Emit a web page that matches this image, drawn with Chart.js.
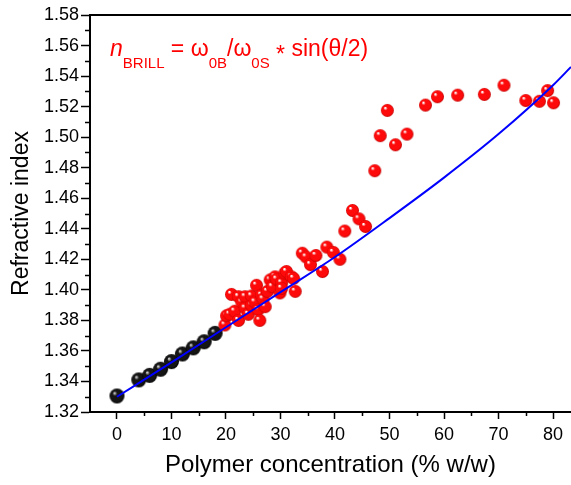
<!DOCTYPE html>
<html>
<head>
<meta charset="utf-8">
<script src="https://cdn.jsdelivr.net/npm/chart.js@4.4.0/dist/chart.umd.min.js"></script>
<style>
    html, body { margin: 0; padding: 0; background: #fff; overflow: hidden; }
    canvas { display: block; }
</style>
</head>
<body>
<canvas id="refChart" width="571" height="485"></canvas>
<script>
// Water / low concentration points (black)
const waterX = [0, 4, 6, 8, 10, 12, 14, 16, 18];
const waterY = [1.3305, 1.341, 1.344, 1.348, 1.353, 1.358, 1.362, 1.366, 1.3715];

// Brillouin points (red)
const brillX = [19.8, 20.1, 20.7, 21.0, 21.6, 22.3, 22.3, 22.9, 23.5, 23.5, 24.1, 24.7, 24.7, 25.3,
    25.6, 25.9, 26.2, 26.5, 26.8, 27.2, 27.6, 28.1, 28.5, 29.0, 29.3, 29.9, 30.2, 30.2, 30.8, 31.1,
    32.0, 32.4, 32.7, 34.0, 34.7, 35.5, 36.5, 37.7, 38.5, 39.7, 40.9, 41.8, 43.2, 44.4, 45.6, 47.3,
    48.3, 49.6, 51.1, 53.2, 56.6, 58.8, 62.5, 67.4, 71.0, 75.0, 77.5, 79.0, 80.1];
const brillY = [1.377, 1.383, 1.384, 1.397, 1.386, 1.380, 1.3955, 1.392, 1.3955, 1.388, 1.384, 1.390, 1.396, 1.392,
    1.403, 1.387, 1.380, 1.3965, 1.394, 1.389, 1.399, 1.4065, 1.402, 1.4085, 1.407, 1.398, 1.4045, 1.401, 1.411, 1.412,
    1.4085, 1.4075, 1.399, 1.424, 1.4215, 1.4165, 1.4225, 1.412, 1.428, 1.4245, 1.420, 1.4385, 1.452, 1.4465, 1.4415, 1.478,
    1.501, 1.5175, 1.495, 1.502, 1.521, 1.5265, 1.5275, 1.528, 1.534, 1.524, 1.5235, 1.5305, 1.5225];

// Fit curve
const fitX = [0, 10, 20, 30, 40, 50, 60, 70, 80, 83.3];
const fitY = [1.330, 1.3525, 1.3755, 1.3985, 1.4215, 1.447, 1.4735, 1.502, 1.534, 1.546];

// Axis ticks
const xTicks = [0, 10, 20, 30, 40, 50, 60, 70, 80];
const xMinor = [5, 15, 25, 35, 45, 55, 65, 75];
const yTicks = [1.32, 1.34, 1.36, 1.38, 1.40, 1.42, 1.44, 1.46, 1.48, 1.50, 1.52, 1.54, 1.56, 1.58];
const yMinor = [1.33, 1.35, 1.37, 1.39, 1.41, 1.43, 1.45, 1.47, 1.49, 1.51, 1.53, 1.55, 1.57];

const FONT = "Arial, 'Liberation Sans', sans-serif";

// Shaded sphere used as point marker
function makeBall(radius, base, rim, shine) {
    const c = document.createElement('canvas');
    const size = radius * 2 + 2;
    c.width = size;
    c.height = size;
    const g = c.getContext('2d');
    const cx = size / 2, cy = size / 2;
    const grad = g.createRadialGradient(cx - radius * 0.35, cy - radius * 0.4, 0.5, cx, cy, radius);
    grad.addColorStop(0, shine);
    grad.addColorStop(0.25, base);
    grad.addColorStop(0.8, base);
    grad.addColorStop(1, rim);
    g.fillStyle = grad;
    g.beginPath();
    g.arc(cx, cy, radius, 0, Math.PI * 2);
    g.fill();
    return c;
}

const redBall = makeBall(6.5, '#ff0a0a', '#c00000', '#ffffff');
const blackBall = makeBall(7.5, '#151515', '#000000', '#d0d0d0');

const toPoints = (xs, ys) => xs.map((x, i) => ({ x: x, y: ys[i] }));

const minorTicks = {
    id: 'minorTicks',
    afterDraw: (chart) => {
        const ctx = chart.ctx;
        const area = chart.chartArea;
        const xs = chart.scales.x;
        const ys = chart.scales.y;
        ctx.save();
        ctx.strokeStyle = '#000';
        ctx.lineWidth = 1.5;
        ctx.beginPath();
        xMinor.forEach(v => {
            const px = Math.round(xs.getPixelForValue(v)) + 0.5;
            ctx.moveTo(px, area.bottom);
            ctx.lineTo(px, area.bottom + 4);
        });
        yMinor.forEach(v => {
            const py = Math.round(ys.getPixelForValue(v)) + 0.5;
            ctx.moveTo(area.left, py);
            ctx.lineTo(area.left - 5, py);
        });
        ctx.stroke();
        // top frame line
        ctx.beginPath();
        ctx.lineWidth = 2;
        ctx.moveTo(area.left, area.top);
        ctx.lineTo(chart.width, area.top);
        ctx.stroke();
        ctx.restore();
    }
};

// Formula label in the upper left corner
const formula = {
    id: 'formula',
    afterDraw: (chart) => {
        const ctx = chart.ctx;
        ctx.save();
        ctx.fillStyle = '#ff0000';
        ctx.textBaseline = 'alphabetic';
        const big = '23px ' + FONT;
        const small = '15px ' + FONT;
        let x = 110;
        const y = 56;
        const part = (text, font, dy) => {
            ctx.font = font;
            ctx.fillText(text, x, y + (dy || 0));
            x += ctx.measureText(text).width;
        };
        part('n', 'italic ' + big);
        part('BRILL', small, 12);
        part(' = \u03c9', big);
        part('0B', small, 12);
        part('/\u03c9', big);
        part('0S', small, 12);
        part(' ', big);
        part('*', big, 6);
        part(' sin(\u03b8/2)', big);
        ctx.restore();
    }
};

const ctx = document.getElementById('refChart').getContext('2d');

const chart = new Chart(ctx, {
    type: 'scatter',
    data: {
        datasets: [
            {
                label: 'fit',
                type: 'line',
                data: toPoints(fitX, fitY),
                borderColor: '#0000ff',
                borderWidth: 2,
                pointRadius: 0,
                cubicInterpolationMode: 'monotone',
                fill: false,
                order: 0
            },
            {
                label: 'water',
                data: toPoints(waterX, waterY),
                pointStyle: blackBall,
                order: 2
            },
            {
                label: 'brillouin',
                data: toPoints(brillX, brillY),
                pointStyle: redBall,
                order: 1
            }
        ]
    },
    options: {
        responsive: false,
        animation: false,
        layout: {
            autoPadding: false,
            padding: { top: 15, right: 0, left: 0, bottom: 0 }
        },
        plugins: {
            legend: { display: false },
            tooltip: { enabled: false }
        },
        scales: {
            x: {
                type: 'linear',
                min: -4.95,
                max: 83.3,
                afterBuildTicks: (scale) => {
                    scale.ticks = xTicks.map(v => ({ value: v }));
                },
                afterFit: (scale) => {
                    scale.height = 73;
                    scale.paddingRight = 0;
                },
                ticks: {
                    color: '#000',
                    padding: 5,
                    maxRotation: 0,
                    font: { size: 18, family: FONT }
                },
                grid: {
                    drawOnChartArea: false,
                    tickLength: 7,
                    tickWidth: 1.5,
                    tickColor: '#000'
                },
                border: { color: '#000', width: 2 },
                title: {
                    display: true,
                    text: 'Polymer concentration (% w/w)',
                    color: '#000',
                    font: { size: 24, family: FONT },
                    padding: { top: 0, bottom: 5 }
                }
            },
            y: {
                type: 'linear',
                min: 1.32,
                max: 1.58,
                afterBuildTicks: (scale) => {
                    scale.ticks = yTicks.map(v => ({ value: v }));
                },
                afterFit: (scale) => { scale.width = 90; },
                ticks: {
                    color: '#000',
                    padding: 2,
                    callback: (v) => v.toFixed(2),
                    font: { size: 18, family: FONT }
                },
                grid: {
                    drawOnChartArea: false,
                    tickLength: 9,
                    tickWidth: 1.5,
                    tickColor: '#000'
                },
                border: { color: '#000', width: 2 },
                title: {
                    display: true,
                    text: 'Refractive index',
                    color: '#000',
                    font: { size: 23, family: FONT },
                    padding: { top: 8, bottom: 0 }
                }
            }
        }
    },
    plugins: [minorTicks, formula]
});
</script>
</body>
</html>
